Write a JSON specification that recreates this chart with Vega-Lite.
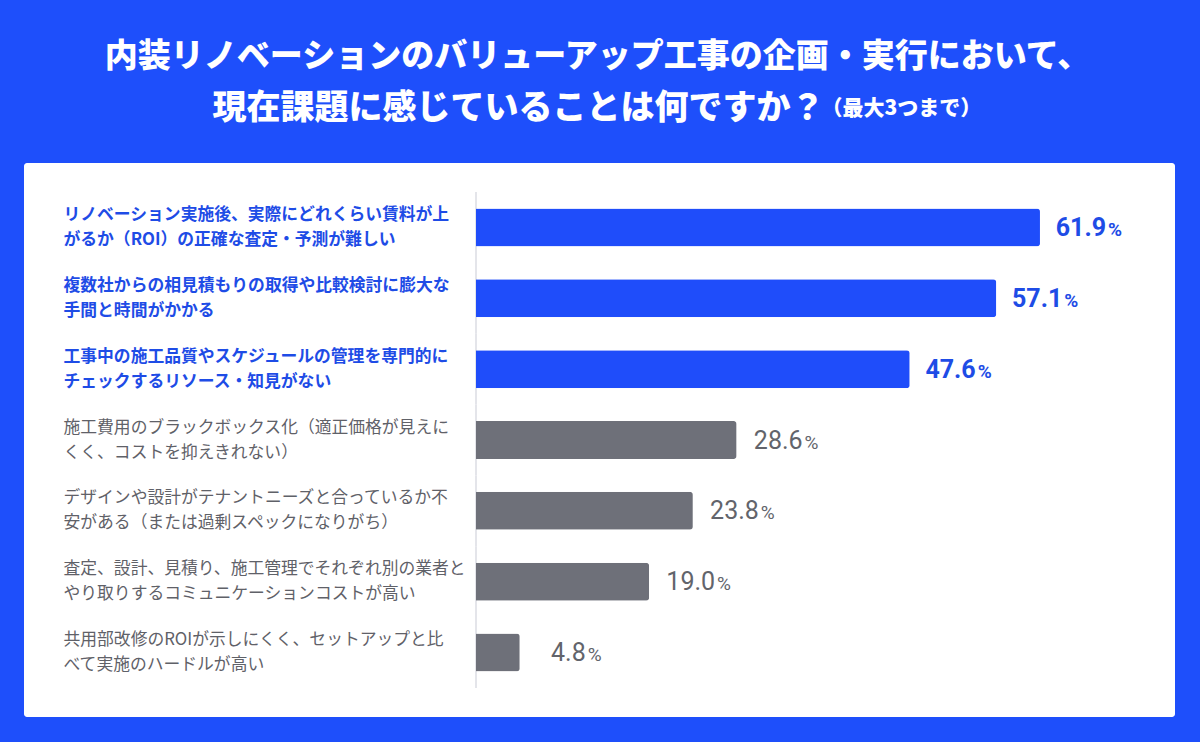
{
  "$schema": "https://vega.github.io/schema/vega-lite/v6.json",
  "width": 1151,
  "height": 554,
  "autosize": "none",
  "padding": {"left": 24, "top": 163, "right": 25, "bottom": 25},
  "background": "#1e4ffb",
  "view": {"fill": "#ffffff", "stroke": null, "cornerRadius": 3},
  "title": {
    "text": "内装リノベーションのバリューアップ工事の企画・実行において、",
    "font": "Noto Sans CJK JP",
    "fontSize": 33,
    "fontWeight": 900,
    "color": "#ffffff",
    "anchor": "middle",
    "frame": "group",
    "offset": 17,
    "dx": -2
  },
  "data": {
    "values": [
      {"item": "リノベーション実施後、実際にどれくらい賃料が上|がるか（ROI）の正確な査定・予測が難しい", "pct": 61.9},
      {"item": "複数社からの相見積もりの取得や比較検討に膨大な|手間と時間がかかる", "pct": 57.1},
      {"item": "工事中の施工品質やスケジュールの管理を専門的に|チェックするリソース・知見がない", "pct": 47.6},
      {"item": "施工費用のブラックボックス化（適正価格が見えに|くく、コストを抑えきれない）", "pct": 28.6},
      {"item": "デザインや設計がテナントニーズと合っているか不|安がある（または過剰スペックになりがち）", "pct": 23.8},
      {"item": "査定、設計、見積り、施工管理でそれぞれ別の業者と|やり取りするコミュニケーションコストが高い", "pct": 19.0},
      {"item": "共用部改修のROIが示しにくく、セットアップと比|べて実施のハードルが高い", "pct": 4.8}
    ]
  },
  "encoding": {
    "y": {
      "field": "item",
      "type": "nominal",
      "sort": null,
      "scale": {"paddingInner": 0, "paddingOuter": 0.41},
      "axis": {
        "title": "（最大3つまで）",
        "titleX": 797,
        "titleY": -55,
        "titleAngle": 0,
        "titleAlign": "left",
        "titleBaseline": "middle",
        "titleFont": "Noto Sans CJK JP",
        "titleFontSize": 21,
        "titleFontWeight": 900,
        "titleColor": "#ffffff",
        "domain": false,
        "ticks": false,
        "tickSize": 0,
        "grid": false,
        "labelPadding": -39,
        "labelAlign": "left",
        "labelBaseline": "middle",
        "labelOffset": -12.5,
        "labelLimit": 430,
        "labelFont": "Noto Sans CJK JP",
        "labelFontSize": 16.8,
        "labelLineHeight": 25,
        "labelExpr": "split(datum.label, '|')",
        "labelColor": {"condition": {"test": "datum.index < 0.4", "value": "#1e4ce6"}, "value": "#5f6168"},
        "labelFontWeight": {"condition": {"test": "datum.index < 0.4", "value": "bold"}, "value": "normal"}
      }
    },
    "x": {
      "field": "pct",
      "type": "quantitative",
      "scale": {"domain": [0, 76.72], "range": [452, 1151], "nice": false, "zero": true},
      "axis": {
        "orient": "top",
        "labels": false,
        "ticks": false,
        "domain": false,
        "grid": false,
        "title": "現在課題に感じていることは何ですか？",
        "titleX": 494,
        "titleY": -55,
        "titleAlign": "center",
        "titleBaseline": "middle",
        "titleFont": "Noto Sans CJK JP",
        "titleFontSize": 34,
        "titleFontWeight": 900,
        "titleColor": "#ffffff"
      }
    }
  },
  "layer": [
    {
      "mark": {"type": "rect", "fill": null, "stroke": "#dcdde3", "strokeWidth": 1.5},
      "encoding": {
        "x": {"datum": 0, "type": "quantitative"},
        "x2": {"datum": 0}
      }
    },
    {
      "mark": {"type": "bar", "height": 38, "cornerRadiusEnd": 3},
      "encoding": {
        "color": {"condition": {"test": "datum.pct > 40", "value": "#1f4dfa"}, "value": "#6e7079"}
      }
    },
    {
      "transform": [{"filter": "datum.pct > 40"}],
      "mark": {"type": "text", "align": "right", "baseline": "alphabetic", "dx": 66, "dy": 8.5, "font": "Roboto", "fontSize": 25, "fontWeight": "bold", "color": "#1e4ce6"},
      "encoding": {
        "text": {"field": "pct", "type": "quantitative", "format": ".1f"}
      }
    },
    {
      "transform": [{"filter": "datum.pct > 40"}],
      "mark": {"type": "text", "align": "left", "baseline": "alphabetic", "dx": 68, "dy": 8.5, "font": "Roboto", "fontSize": 19, "fontWeight": "bold", "color": "#1e4ce6"},
      "encoding": {
        "text": {"value": "%"}
      }
    },
    {
      "transform": [{"filter": "datum.pct <= 40"}],
      "mark": {"type": "text", "align": "right", "baseline": "alphabetic", "dx": 66, "dy": 8.5, "font": "Roboto", "fontSize": 25, "fontWeight": "normal", "color": "#62646b"},
      "encoding": {
        "text": {"field": "pct", "type": "quantitative", "format": ".1f"}
      }
    },
    {
      "transform": [{"filter": "datum.pct <= 40"}],
      "mark": {"type": "text", "align": "left", "baseline": "alphabetic", "dx": 68, "dy": 8.5, "font": "Roboto", "fontSize": 19, "fontWeight": "normal", "color": "#62646b"},
      "encoding": {
        "text": {"value": "%"}
      }
    }
  ]
}
